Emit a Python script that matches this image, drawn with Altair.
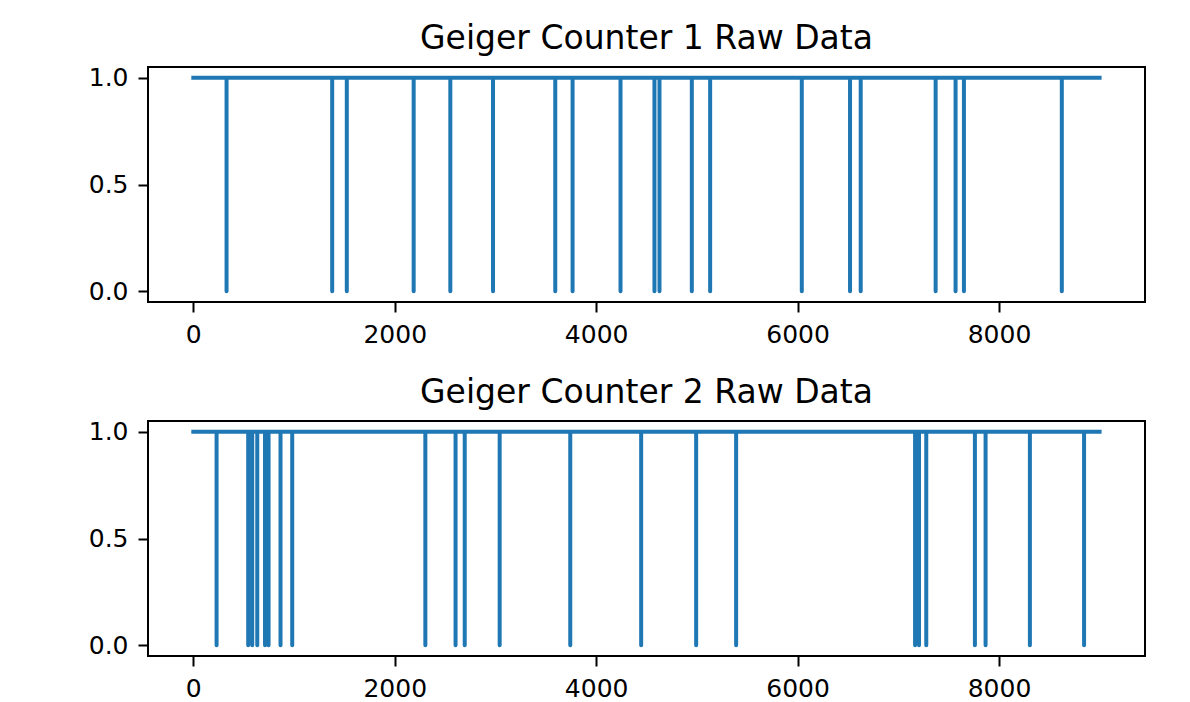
import altair as alt
import pandas as pd

# Sample indices (x) where each counter's raw signal drops from 1 to 0
counter1_spikes = [330, 1379, 1524, 2188, 2552, 2976, 3594, 3766, 4242, 4579, 4629,
                   4950, 5132, 6042, 6521, 6627, 7371, 7569, 7652, 8624]
counter2_spikes = [231, 545, 585, 635, 712, 747, 866, 982, 2304, 2604, 2695, 3042,
                   3743, 4447, 4993, 5390, 7167, 7206, 7278, 7761, 7867, 8307, 8845]
n_samples_last = 8999
titles = ["Geiger Counter 1 Raw Data", "Geiger Counter 2 Raw Data"]
x_ticks = [0, 2000, 4000, 6000, 8000]
y_ticks = [0.0, 0.5, 1.0]


def build(spikes):
    rows = [(0, 1)]
    for p in spikes:
        rows += [(p, 1), (p, 0), (p, 1)]
    rows.append((n_samples_last, 1))
    return pd.DataFrame({"i": range(len(rows)),
                         "x": [r[0] for r in rows],
                         "y": [r[1] for r in rows]})


def panel(spikes, title):
    df = build(spikes)
    return alt.Chart(df, title=alt.TitleParams(
        title, font="DejaVu Sans", fontSize=33, fontWeight="normal",
        color="black", anchor="middle", offset=10)).mark_line(
        color="#1f77b4", strokeWidth=4, strokeJoin="round", strokeCap="square"
    ).encode(
        x=alt.X("x:Q", scale=alt.Scale(domain=[-450, 9450], nice=False, zero=False),
                axis=alt.Axis(values=x_ticks, format="d", title=None)),
        y=alt.Y("y:Q", scale=alt.Scale(domain=[-0.05, 1.05], nice=False, zero=False),
                axis=alt.Axis(values=y_ticks, format=".1f", title=None)),
        order="i:Q",
    ).properties(width=997, height=235)


chart = alt.vconcat(
    panel(counter1_spikes, titles[0]),
    panel(counter2_spikes, titles[1]),
    spacing=27,
).properties(
    padding={"left": 79, "top": 13, "right": 5, "bottom": 5},
    background="white",
).configure_view(
    stroke="black", strokeWidth=2
).configure_axis(
    grid=False, domain=False,
    labelFont="DejaVu Sans", labelFontSize=25, labelColor="black",
    tickColor="black", tickSize=10, tickWidth=2, labelPadding=10,
)

chart.save("out.html", embed_options={"renderer": "svg", "actions": False})
